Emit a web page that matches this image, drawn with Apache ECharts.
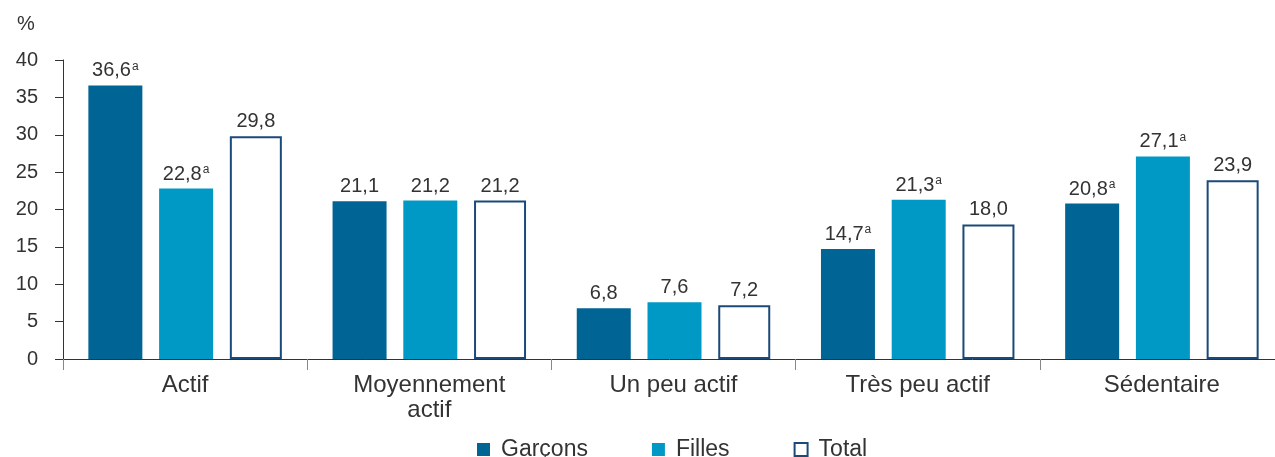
<!DOCTYPE html>
<html>
<head>
<meta charset="utf-8">
<script src="https://cdn.jsdelivr.net/npm/echarts@6/dist/echarts.min.js"></script>
<style>html,body{margin:0;padding:0;background:#fff}#c{width:1275px;height:457px}</style>
</head>
<body>
<div id="c"></div>
<script>
var categories = ['Actif', 'Moyennement\nactif', 'Un peu actif', 'Très peu actif', 'Sédentaire'];
var seriesNames = ['Garçons', 'Filles', 'Total'];
var garcons = [36.6, 21.1, 6.8, 14.7, 20.8];
var filles = [22.8, 21.2, 7.6, 21.3, 27.1];
var total = [29.8, 21.2, 7.2, 18.0, 23.9];
var garconsSig = [true, false, false, true, true];
var fillesSig = [true, false, false, true, true];
var totalSig = [false, false, false, false, false];
var yTicks = [0, 5, 10, 15, 20, 25, 30, 35, 40];

var FONT = 'Liberation Sans, Arial, sans-serif';
var TXT = '#333333';
var C_G = '#006494', C_F = '#0099c5', C_T = '#1b4a78';

function mkLabel(sig) {
  return {
    show: true, position: 'top', distance: 4,
    formatter: function (p) {
      var s = p.value.toFixed(1).replace('.', ',');
      return '{v|' + s + '}' + (sig[p.dataIndex] ? '{s|a}' : '');
    },
    rich: {
      v: { fontSize: 20, fontFamily: FONT, color: TXT, lineHeight: 21 },
      s: { fontSize: 12, fontFamily: FONT, color: TXT, verticalAlign: 'top', lineHeight: 11, padding: [0, 0, 0, 1] }
    }
  };
}

var chart = echarts.init(document.getElementById('c'), null, { renderer: 'canvas' });
chart.setOption({
  animation: false,
  backgroundColor: '#fff',
  title: { text: '%', left: 12, top: 9, textStyle: { fontSize: 20, fontWeight: 'normal', fontFamily: FONT, color: TXT } },
  grid: { left: 63, width: 1221, top: 60, bottom: 98, containLabel: false, outerBoundsMode: 'none' },
  legend: {
    left: 472, top: 433,
    itemWidth: 13, itemHeight: 13, itemGap: 64,
    icon: 'rect',
    textStyle: { fontSize: 23, fontFamily: FONT, color: TXT, padding: [0, 0, 0, 6] },
    data: [
      { name: 'Garçons', itemStyle: { color: C_G } },
      { name: 'Filles', itemStyle: { color: C_F } },
      { name: 'Total', itemStyle: { color: '#fff', borderColor: C_T, borderWidth: 2 } }
    ]
  },
  xAxis: {
    type: 'category', data: categories,
    axisLine: { show: true, lineStyle: { color: '#333', width: 1 } },
    axisTick: { show: true, length: 11, lineStyle: { color: '#888' } },
    axisLabel: { fontSize: 24, fontFamily: FONT, color: TXT, margin: 14, lineHeight: 25 }
  },
  yAxis: {
    type: 'value', min: 0, max: 40, interval: 5,
    axisLine: { show: true, lineStyle: { color: '#333', width: 1 } },
    axisTick: { show: true, length: 8, lineStyle: { color: '#333' } },
    splitLine: { show: false },
    axisLabel: { fontSize: 20, fontFamily: FONT, color: TXT, margin: 25,
      formatter: function (v) { return yTicks.indexOf(v) >= 0 ? String(v) : ''; } }
  },
  series: [
    { name: seriesNames[0], type: 'bar', data: garcons, barWidth: 54, barGap: '31%',
      itemStyle: { color: C_G }, label: mkLabel(garconsSig) },
    { name: seriesNames[1], type: 'bar', data: filles, barWidth: 54, barGap: '31%',
      itemStyle: { color: C_F }, label: mkLabel(fillesSig) },
    { name: seriesNames[2], type: 'bar', data: total, barWidth: 52, barGap: '31%',
      itemStyle: { color: '#fff', borderColor: C_T, borderWidth: 2 }, label: mkLabel(totalSig) }
  ]
});
</script>
</body>
</html>
